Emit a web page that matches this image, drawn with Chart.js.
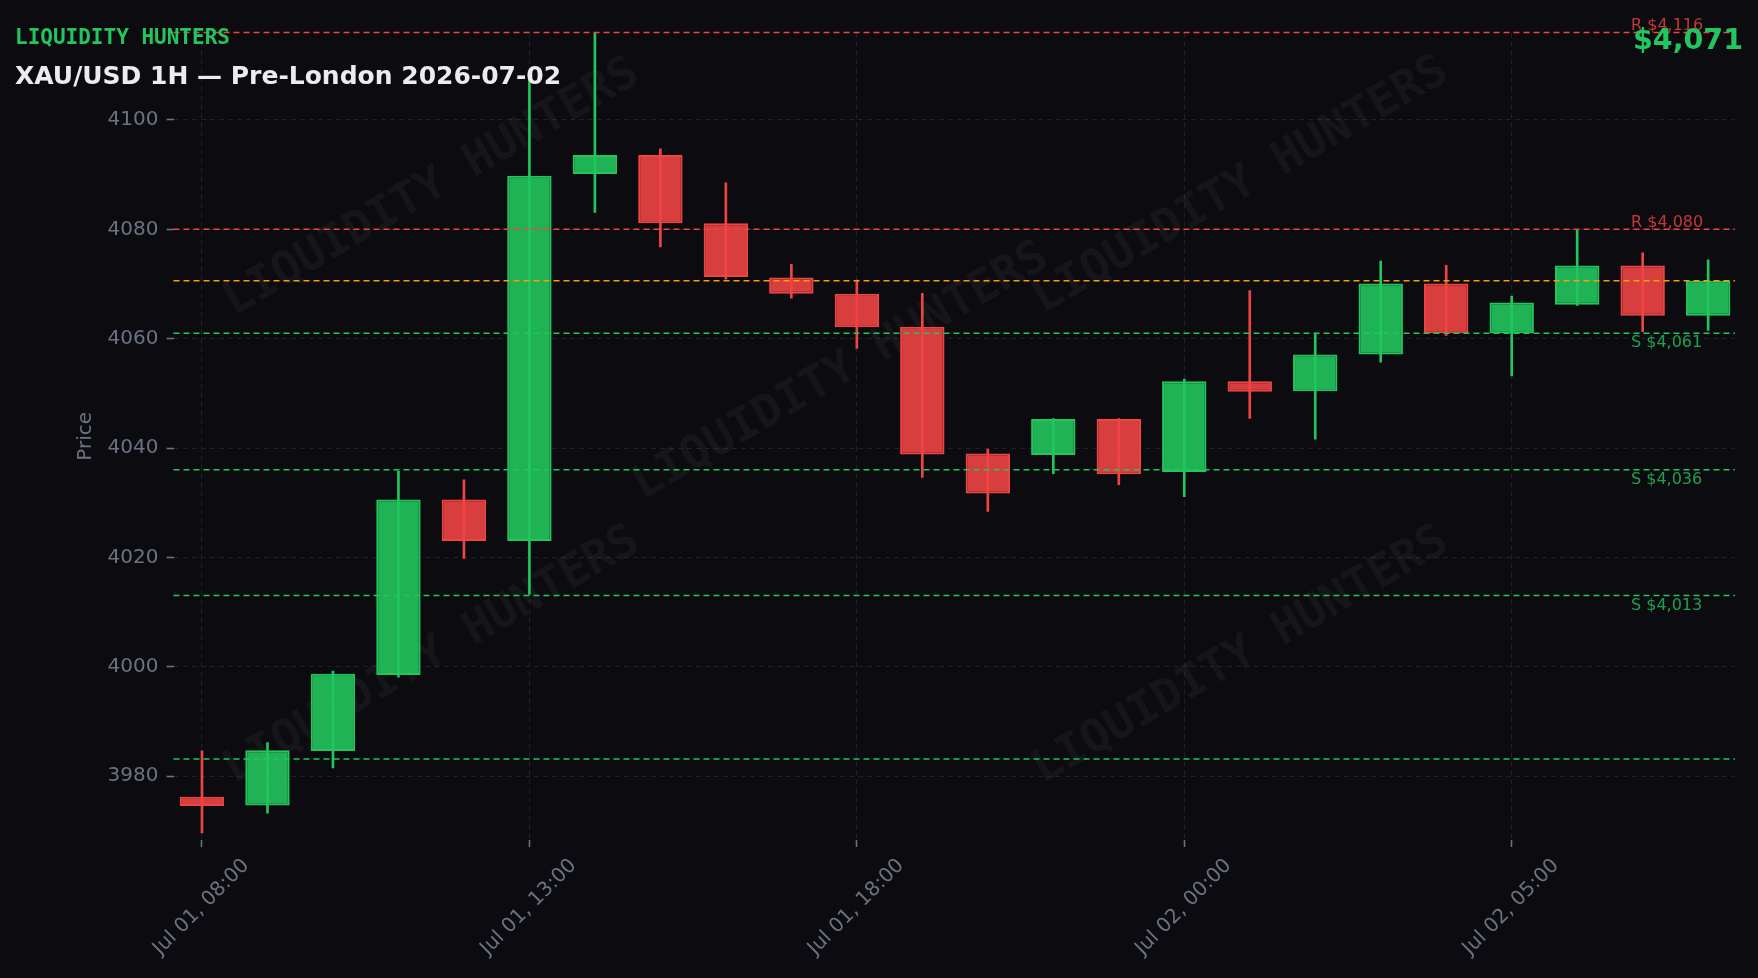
<!DOCTYPE html>
<html lang="en">
  <head>
    <meta charset="UTF-8" />
    <title>XAU/USD 1H — Pre-London</title>
    <style>
      body {
        margin: 0;
        padding: 0;
        background-color: #0b0b10;
        font-family: "DejaVu Sans", sans-serif;
      }

      .wrap {
        position: relative;
        width: 1758px;
        height: 978px;
      }

      .brand {
        position: absolute;
        left: 15px;
        top: 27px;
        font-family: "DejaVu Sans Mono", monospace;
        font-weight: bold;
        font-size: 21px;
        line-height: 1;
        color: #22c55e;
      }

      .title {
        position: absolute;
        left: 15px;
        top: 63px;
        font-weight: bold;
        font-size: 25px;
        line-height: 1;
        color: #ebebf0;
      }

      .last-price {
        position: absolute;
        right: 15px;
        top: 26px;
        font-weight: bold;
        font-size: 28.5px;
        line-height: 1;
        color: #22c55e;
      }
    </style>
  </head>
  <body>
    <div class="wrap">
      <canvas id="goldChart"></canvas>
      <div class="brand">LIQUIDITY HUNTERS</div>
      <div class="title">XAU/USD 1H — Pre-London 2026-07-02</div>
      <div class="last-price">$4,071</div>
    </div>

    <script src="https://cdn.jsdelivr.net/npm/chart.js"></script>
    <script>
      // hourly candles (one per hour, the 23:00 session break has no bar)
      const timeLabels = [
        "Jul 01, 08:00", "Jul 01, 09:00", "Jul 01, 10:00", "Jul 01, 11:00",
        "Jul 01, 12:00", "Jul 01, 13:00", "Jul 01, 14:00", "Jul 01, 15:00",
        "Jul 01, 16:00", "Jul 01, 17:00", "Jul 01, 18:00", "Jul 01, 19:00",
        "Jul 01, 20:00", "Jul 01, 21:00", "Jul 01, 22:00", "Jul 02, 00:00",
        "Jul 02, 01:00", "Jul 02, 02:00", "Jul 02, 03:00", "Jul 02, 04:00",
        "Jul 02, 05:00", "Jul 02, 06:00", "Jul 02, 07:00", "Jul 02, 08:00",
      ];
      const opens = [
        3976.2, 3974.6, 3984.6, 3998.5, 4030.6, 4023.0, 4090.1, 4093.6,
        4081.1, 4071.2, 4068.2, 4062.2, 4039.0, 4038.7, 4045.3, 4035.6,
        4052.2, 4050.4, 4057.1, 4070.1, 4061.0, 4066.2, 4073.4, 4064.2,
      ];
      const highs = [
        3984.6, 3986.1, 3999.2, 4035.8, 4034.2, 4107.5, 4116.0, 4094.7,
        4088.5, 4073.6, 4070.7, 4068.3, 4039.8, 4045.4, 4045.4, 4052.6,
        4068.8, 4061.0, 4074.2, 4073.4, 4067.8, 4079.9, 4075.7, 4074.4,
      ];
      const lows = [
        3969.6, 3973.2, 3981.5, 3998.1, 4019.8, 4013.2, 4083.1, 4076.8,
        4070.9, 4067.4, 4058.2, 4034.6, 4028.4, 4035.3, 4033.3, 4031.1,
        4045.4, 4041.6, 4055.7, 4060.6, 4053.2, 4066.1, 4061.3, 4061.5,
      ];
      const closes = [
        3974.5, 3984.7, 3998.7, 4030.6, 4023.0, 4089.8, 4093.6, 4081.1,
        4071.3, 4068.2, 4062.1, 4038.8, 4031.7, 4045.3, 4035.2, 4052.2,
        4050.3, 4057.1, 4070.1, 4061.0, 4066.6, 4073.4, 4064.2, 4070.6,
      ];

      const resistanceLevels = [4116, 4080];
      const supportLevels = [4061, 4036, 4013];
      const sweepLevel = 3983.1; // unlabelled green line
      const lastPrice = 4070.6;

      const xTickIndexes = [0, 5, 10, 15, 20];
      const yTicks = [3980, 4000, 4020, 4040, 4060, 4080, 4100];

      document.addEventListener("DOMContentLoaded", function () {
        const ctx = document.getElementById("goldChart").getContext("2d");

        const GREEN = "#22c55e";
        const RED = "#ef4444";
        const ORANGE = "#f59e0b";
        const TICK_GRAY = "#6b7280";
        const X_MIN = -0.435;
        const X_MAX = 23.41;

        Chart.defaults.font.family = "'DejaVu Sans', sans-serif";

        const isUp = opens.map((o, i) => closes[i] >= o);

        function levelLine(value, color) {
          return {
            type: "line",
            data: [
              { x: X_MIN, y: value },
              { x: X_MAX, y: value },
            ],
            borderColor: color,
            borderWidth: 1.5,
            borderDash: [6, 4],
            pointRadius: 0,
            clip: false,
            order: 0,
          };
        }

        const levelDatasets = [
          ...resistanceLevels.map((v) => levelLine(v, RED)),
          levelLine(lastPrice, ORANGE),
          ...supportLevels.map((v) => levelLine(v, GREEN)),
          levelLine(sweepLevel, GREEN),
        ];

        const wicks = {
          type: "bar",
          data: opens.map((_, i) => ({ x: i, y: [lows[i], highs[i]] })),
          backgroundColor: isUp.map((up) => (up ? GREEN : RED)),
          borderWidth: 0,
          barThickness: 2,
          grouped: false,
          order: 2,
        };

        const bodies = {
          type: "bar",
          data: opens.map((o, i) => ({ x: i, y: [o, closes[i]] })),
          backgroundColor: isUp.map((up) =>
            up ? "rgba(34,197,94,0.9)" : "rgba(239,68,68,0.9)"
          ),
          borderColor: isUp.map((up) => (up ? GREEN : RED)),
          borderWidth: 2,
          borderSkipped: false,
          barPercentage: 1,
          categoryPercentage: 0.678,
          grouped: false,
          order: 1,
        };

        const watermarkPlugin = {
          id: "watermark",
          beforeDatasetsDraw(chart) {
            const c = chart.ctx;
            const spots = [
              [432, 188],
              [1241, 186],
              [841, 372],
              [432, 656],
              [1241, 656],
            ];
            c.save();
            c.font = "bold 46px 'DejaVu Sans Mono', monospace";
            c.fillStyle = "rgba(255,255,255,0.045)";
            c.textAlign = "center";
            c.textBaseline = "middle";
            spots.forEach(([px, py]) => {
              c.save();
              c.translate(px, py);
              c.rotate((-30 * Math.PI) / 180);
              c.fillText("LIQUIDITY HUNTERS", 0, 0);
              c.restore();
            });
            c.restore();
          },
        };

        const levelLabelPlugin = {
          id: "levelLabels",
          afterDatasetsDraw(chart) {
            const c = chart.ctx;
            const y = chart.scales.y;
            const left = chart.chartArea.right - 104;
            c.save();
            c.font = "16px 'DejaVu Sans', sans-serif";
            c.textAlign = "left";
            c.textBaseline = "alphabetic";
            c.fillStyle = "rgba(239,68,68,0.8)";
            resistanceLevels.forEach((v) => {
              c.fillText(
                "R $" + v.toLocaleString("en-US"),
                left,
                y.getPixelForValue(v) - 2.5
              );
            });
            c.fillStyle = "rgba(34,197,94,0.8)";
            supportLevels.forEach((v) => {
              c.fillText(
                "S $" + v.toLocaleString("en-US"),
                left,
                y.getPixelForValue(v) + 14
              );
            });
            c.restore();
          },
        };

        new Chart(ctx, {
          type: "bar",
          data: {
            datasets: [...levelDatasets, bodies, wicks],
          },
          options: {
            responsive: true,
            maintainAspectRatio: false,
            animation: false,
            layout: {
              padding: { top: 32.5, right: 23, left: 0, bottom: 0 },
            },
            plugins: {
              legend: { display: false },
              tooltip: { enabled: false },
            },
            scales: {
              x: {
                type: "linear",
                min: X_MIN,
                max: X_MAX,
                offset: false,
                afterBuildTicks: (scale) => {
                  scale.ticks = xTickIndexes.map((v) => ({ value: v }));
                },
                afterFit: (scale) => {
                  scale.height = 138;
                },
                grid: {
                  color: "#1f2028",
                  offset: false,
                  tickLength: 7,
                  tickColor: TICK_GRAY,
                  tickWidth: 1.6,
                  tickBorderDash: [],
                },
                border: { display: false, dash: [5, 4] },
                ticks: {
                  autoSkip: false,
                  minRotation: 45,
                  maxRotation: 45,
                  labelOffset: 44,
                  padding: 7,
                  color: TICK_GRAY,
                  font: { size: 20 },
                  callback: (value) => timeLabels[value] ?? "",
                },
              },
              y: {
                min: 3968.3,
                max: 4116.0,
                afterBuildTicks: (scale) => {
                  scale.ticks = yTicks.map((v) => ({ value: v }));
                },
                afterFit: (scale) => {
                  scale.width = 173.5;
                },
                grid: {
                  color: "#1f2028",
                  tickLength: 7,
                  tickColor: TICK_GRAY,
                  tickWidth: 1.6,
                  tickBorderDash: [],
                },
                border: { display: false, dash: [5, 4] },
                ticks: {
                  padding: 8,
                  color: TICK_GRAY,
                  font: { size: 20 },
                  callback: (value) => String(value),
                },
                title: {
                  display: true,
                  text: "Price",
                  color: TICK_GRAY,
                  font: { size: 20 },
                  padding: { top: 74, bottom: 0 },
                },
              },
            },
          },
          plugins: [watermarkPlugin, levelLabelPlugin],
        });
      });
    </script>
  </body>
</html>
